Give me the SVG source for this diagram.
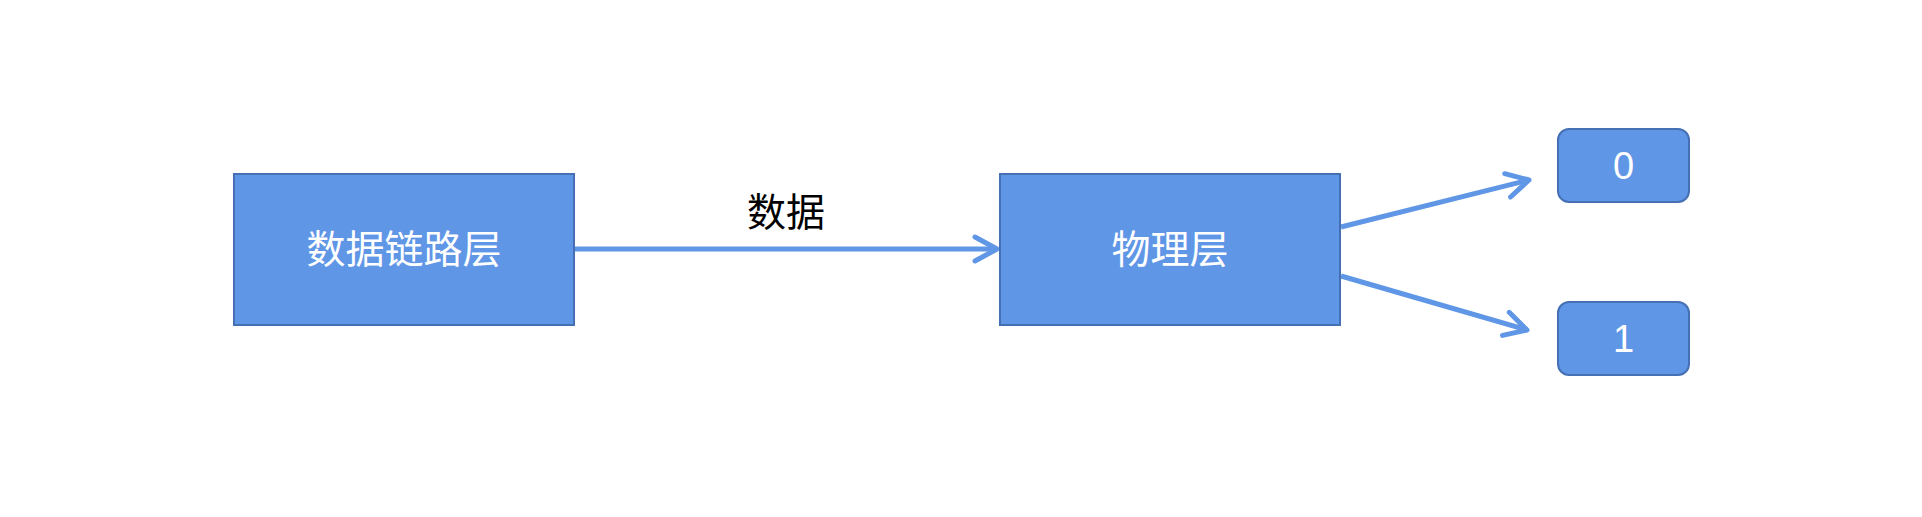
<svg xmlns="http://www.w3.org/2000/svg" width="1922" height="517" viewBox="0 0 1922 517">
<defs>
<style>
.box{fill:#6096E6;stroke:#4670B4;stroke-width:2}
.t{font-family:"Noto Sans CJK SC","Liberation Sans",sans-serif;font-size:39px;fill:#ffffff;text-anchor:middle}
.d{font-family:"Liberation Sans",Arial,sans-serif;font-size:38px;fill:#ffffff;text-anchor:middle}
.lbl{font-family:"Noto Sans CJK SC",sans-serif;font-size:39px;fill:#000000;text-anchor:middle}
.edge{stroke:#6096E6;stroke-width:5;fill:none;marker-end:url(#arr)}
</style>
<marker id="arr" markerUnits="userSpaceOnUse" viewBox="-30 -20 34 40" refX="0" refY="0" markerWidth="34" markerHeight="40" orient="auto">
<path d="M-22,-12 L0,0 L-22,12" fill="none" stroke="#6096E6" stroke-width="5" stroke-linecap="round" stroke-linejoin="round"/>
</marker>
</defs>
<rect width="1922" height="517" fill="#ffffff"/>
<g id="edges">
<line class="edge" x1="575" y1="249" x2="997" y2="249"/>
<line class="edge" x1="1341" y1="227" x2="1529" y2="180"/>
<line class="edge" x1="1341" y1="276" x2="1527" y2="330"/>
<text class="lbl" x="786" y="226">数据</text>
</g>
<g id="n1"><rect class="box" x="234" y="174" width="340" height="151"/><text class="t" x="404" y="263">数据链路层</text></g>
<g id="n2"><rect class="box" x="1000" y="174" width="340" height="151"/><text class="t" x="1170" y="263">物理层</text></g>
<g id="n3"><rect class="box" x="1558" y="129" width="131" height="73" rx="11"/><text class="d" x="1623.500" y="179">0</text></g>
<g id="n4"><rect class="box" x="1558" y="302" width="131" height="73" rx="11"/><text class="d" x="1623.500" y="352">1</text></g>
</svg>
